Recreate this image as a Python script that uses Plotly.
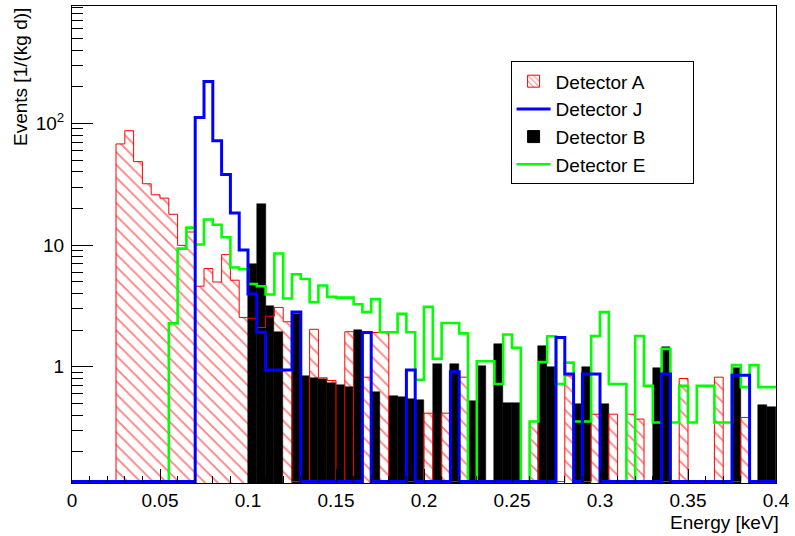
import plotly.graph_objects as go

# ---------------- data (histograms, 80 bins of 0.005 keV from 0 to 0.4) ----------------
bin_width = 0.005
n_bins = 80
x_lo = 0.0
y_log_range = [-0.956, 2.965]

det_a = [0, 0, 0, 0, 0, 67.8, 87.1, 48.5, 31.9, 25.9,
         24.3, 17.9, 9.94, 12.8, 4.59, 6.41, 4.97, 8.34, 5.14, 2.54,
         2.5, 2.1, 2.6, 3.07, 2.34, 0, 0, 2.03, 0.81, 0.77,
         0, 1.94, 0, 0.82, 1.91, 1.91, 0, 0, 0, 0,
         0.415, 0, 0.415, 0, 0.82, 0, 0, 0, 0, 0,
         0, 0, 0.354, 0, 0, 0, 0.84, 0, 0, 0.407,
         0, 0.407, 0, 0.407, 0.371, 0, 0, 0, 0, 0.80,
         0, 0, 0, 0.82, 0, 0, 0.382, 0, 0, 0]

det_j = [0, 0, 0, 0, 0, 0, 0, 0, 0, 0,
         0, 0, 0, 0, 112, 221, 72.1, 38.0, 18.3, 9.10,
         3.96, 1.92, 0.94, 0.94, 0.94, 2.82, 0, 0, 0, 0,
         0, 0, 0, 1.91, 0, 0, 0, 0, 0.94, 0,
         0, 0, 0, 0.91, 0, 0, 0, 0, 0, 0,
         0, 0, 0, 0, 0, 1.74, 0.87, 0, 0.87, 0.87,
         0, 0, 0, 0, 0, 0, 0, 0.87, 0, 0,
         0, 0, 0, 0, 0, 0.85, 0.85, 0, 0, 0]

det_b = [0, 0, 0, 0, 0, 0, 0, 0, 0, 0,
         0, 0, 0, 0, 0, 0, 0, 0, 0, 0,
         6.95, 21.8, 3.17, 1.94, 0, 2.70, 0.84, 0.80, 0.79, 0.74,
         0.71, 0.68, 2.00, 0, 0.615, 0, 0.57, 0.56, 0.543, 0.533,
         0, 1.05, 0, 1.05, 0, 0.524, 1.01, 0, 1.53, 0.507,
         0.507, 0, 0, 1.49, 1.0, 0, 0, 0.495, 1.0, 0,
         0.495, 0, 0, 0, 0, 0, 0.97, 1.46, 0, 0,
         0, 0, 0, 0, 0, 0.98, 0, 0, 0.485, 0.47]

det_e = [0, 0, 0, 0, 0, 0, 0, 0, 0, 0,
         0, 2.27, 9.34, 13.9, 10.1, 16.2, 14.7, 11.6, 6.53, 6.32,
         4.79, 4.59, 3.92, 8.51, 3.64, 5.75, 5.26, 3.39, 4.65, 3.75,
         3.70, 3.70, 3.26, 2.81, 3.59, 1.92, 1.92, 2.72, 1.92, 0.78,
         3.10, 1.16, 2.29, 2.29, 1.88, 0, 1.11, 1.11, 0.72, 1.84,
         1.43, 0, 0.354, 1.09, 1.78, 0.72, 1.08, 0.354, 0.354, 1.79,
         2.81, 0.72, 0.72, 0, 1.79, 0.695, 0.348, 1.40, 0.348, 0.695,
         0.348, 0.695, 0.695, 0.348, 0.348, 1.03, 0.68, 1.03, 0.68, 0.68]

series_names = ["Detector A", "Detector J", "Detector B", "Detector E"]

x_tick_vals = [0, 0.05, 0.1, 0.15, 0.2, 0.25, 0.3, 0.35, 0.4]
x_tick_text = ["0", "0.05", "0.1", "0.15", "0.2", "0.25", "0.3", "0.35", "0.4"]
y_tick_vals = [1, 10, 100]
y_tick_text = ["1", "10", "10<sup>2</sup>"]

# ---------------- helpers ----------------
edges = [x_lo + i * bin_width for i in range(n_bins + 1)]
centers = [x_lo + (i + 0.5) * bin_width for i in range(n_bins)]
floor_val = 10 ** (y_log_range[0] + 0.012)
PAD = "\u00a0" * 8  # widens the legend box like the ROOT TLegend


def step_xy(vals):
    ys = [v if v > 0 else floor_val for v in vals]
    return edges, ys + [ys[-1]]


def bar_y(vals):
    return [v if v > 0 else None for v in vals]


FONT = "Liberation Sans, Arial, Helvetica, sans-serif"
FS = 19
RED, BLUE, GREEN = "#ff0000", "#0000ff", "#00ff00"

fig = go.Figure()

# Detector A: hatched red histogram
fig.add_trace(go.Bar(
    x=centers, y=bar_y(det_a), width=bin_width, showlegend=False,
    marker=dict(color="white", line=dict(width=0),
                pattern=dict(shape="\\", fgcolor=RED, bgcolor="white", size=9, solidity=0.2)),
    hoverinfo="skip"))
xs, ys = step_xy(det_a)
fig.add_trace(go.Scatter(x=xs, y=ys, mode="lines", line=dict(color=RED, width=1, shape="hv"),
                         showlegend=False, hoverinfo="skip"))

# Detector B: solid black histogram
fig.add_trace(go.Bar(
    x=centers, y=bar_y(det_b), width=bin_width, showlegend=False,
    marker=dict(color="black", line=dict(color="black", width=0.5)), hoverinfo="skip"))

# Detector E: green outline
xs, ys = step_xy(det_e)
fig.add_trace(go.Scatter(x=xs, y=ys, mode="lines", name=series_names[3] + PAD, legendrank=4,
                         legendgroup="e", line=dict(color=GREEN, width=2.6, shape="hv")))

# Detector J: blue outline
xs, ys = step_xy(det_j)
fig.add_trace(go.Scatter(x=xs, y=ys, mode="lines", name=series_names[1] + PAD, legendrank=2,
                         legendgroup="j", line=dict(color=BLUE, width=3, shape="hv")))

# legend swatches for the filled histograms
fig.add_trace(go.Bar(x=[None], y=[None], name=series_names[0] + PAD, legendrank=1, legendgroup="a",
                     marker=dict(color="white", line=dict(color=RED, width=1),
                                 pattern=dict(shape="\\", fgcolor=RED, bgcolor="white", size=5, solidity=0.25))))
fig.add_trace(go.Bar(x=[None], y=[None], name=series_names[2] + PAD, legendrank=3, legendgroup="b",
                     marker=dict(color="black", line=dict(color="black", width=1))))

x_minor = [round(0.01 * i, 3) for i in range(41) if i % 5 != 0]
y_minor = [m * 10 ** d for d in (-1, 0, 1, 2) for m in range(2, 10)]

fig.update_layout(
    width=795, height=536,
    margin=dict(l=72, r=15, t=5, b=53),
    paper_bgcolor="white", plot_bgcolor="white",
    barmode="overlay", bargap=0,
    font=dict(family=FONT, size=FS, color="black"),
    showlegend=True,
    legend=dict(x=0.623, y=0.884, xanchor="left", yanchor="top",
                bgcolor="white", bordercolor="black", borderwidth=1,
                font=dict(family=FONT, size=FS, color="black"),
                tracegroupgap=10, itemwidth=34, traceorder="normal"),
    xaxis=dict(range=[0, 0.4], showline=True, linecolor="black", linewidth=1, mirror=True,
               ticks="inside", ticklen=14, tickcolor="black", tickwidth=1,
               tickvals=x_tick_vals, ticktext=x_tick_text,
               minor=dict(ticks="inside", ticklen=7, tickcolor="black", tickvals=x_minor),
               showgrid=False, zeroline=False, tickfont=dict(family=FONT, size=FS)),
    yaxis=dict(type="log", range=y_log_range, showline=True, linecolor="black", linewidth=1,
               mirror=True, ticks="inside", ticklen=21, tickcolor="black", tickwidth=1,
               tickvals=y_tick_vals, ticktext=y_tick_text, ticklabelstandoff=3,
               minor=dict(ticks="inside", ticklen=11, tickcolor="black", tickvals=y_minor),
               showgrid=False, zeroline=False, tickfont=dict(family=FONT, size=FS)),
    annotations=[
        dict(text="Energy [keV]", xref="paper", yref="paper", x=1, y=0,
             xanchor="right", yanchor="top", yshift=-27, xshift=5, showarrow=False,
             font=dict(family=FONT, size=FS)),
        dict(text="Events [1/(kg d)]", xref="paper", yref="paper", x=0, y=1,
             xanchor="center", yanchor="top", xshift=-52, textangle=-90, showarrow=False,
             font=dict(family=FONT, size=FS)),
    ],
)

fig.write_html("out.html")
